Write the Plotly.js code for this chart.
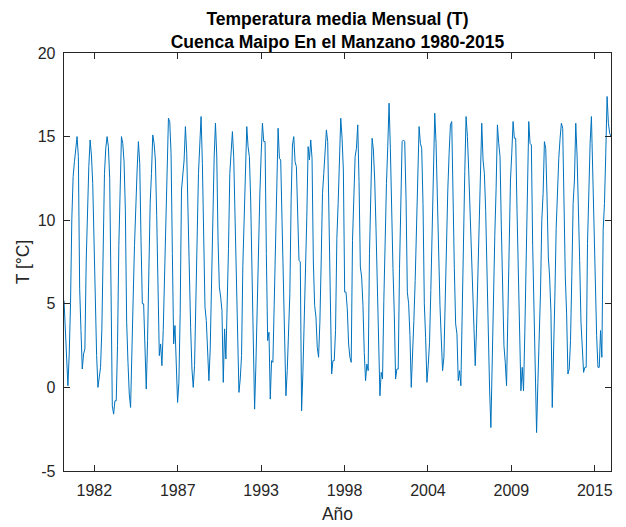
<!DOCTYPE html>
<html>
<head>
<meta charset="utf-8">
<script src="https://cdn.plot.ly/plotly-3.0.1.min.js"></script>
<style>
  html, body { margin: 0; padding: 0; background: #ffffff; }
  #grafico { width: 626px; height: 527px; }
</style>
</head>
<body>
<div id="grafico"></div>
<script>
// Temperatura media mensual [°C], Cuenca Maipo en El Manzano.
// Cada fila es un año hidrológico: abril ... marzo.
const temp1980s = [
  5.2, 3.2, 1.2, 0.1, 2.0, 5.0, 10.1, 12.6, 13.5, 14.4, 15.0, 13.8,   // 1980/81
  5.9, 3.4, 1.1, 2.0, 2.3, 7.5, 11.1, 13.2, 14.8, 13.9, 12.2, 8.5,    // 1981/82
  4.9, 1.9, 0.0, 0.6, 1.2, 3.5, 9.2, 12.8, 14.3, 15.0, 14.4, 12.5,    // 1982/83
  6.0, -1.1, -1.6, -0.8, -0.8, 2.5, 8.5, 13.0, 15.0, 14.6, 13.5, 10.6,// 1983/84
  3.9, 1.5, -0.4, -1.2, 1.5, 5.4, 8.5, 11.5, 13.0, 14.7, 13.4, 8.8,   // 1984/85
  5.0, 5.0, 1.5, -0.1, 2.8, 7.8, 11.0, 12.8, 15.1, 14.6, 13.6, 10.3,  // 1985/86
  5.8, 1.9, 2.6, 1.3, 3.4, 7.0, 9.8, 13.0, 16.1, 15.9, 14.0, 8.0,     // 1986/87
  2.6, 3.7, 1.4, -0.9, 0.3, 4.5, 11.8, 12.5, 13.6, 15.6, 14.0, 10.5,  // 1987/88
  5.8, 3.6, 1.1, 0.0, 1.3, 5.4, 9.3, 12.8, 14.5, 16.2, 13.4, 9.4,     // 1988/89
  4.8, 4.0, 2.0, 0.4, 2.3, 6.3, 11.9, 13.7, 15.8, 13.9, 8.8, 6.0      // 1989/90
];
const temp1990s = [
  5.4, 4.6, 0.3, 3.5, 1.7, 4.3, 8.3, 12.8, 13.9, 15.3, 13.8, 10.2,    // 1990/91
  6.2, 4.6, -0.3, 0.5, 1.9, 7.3, 10.4, 11.8, 15.6, 14.4, 13.8, 11.2,  // 1991/92
  6.6, 2.9, -1.3, 1.4, 5.2, 8.4, 11.5, 13.9, 15.8, 14.7, 14.7, 8.0,   // 1992/93
  2.8, 3.3, -0.7, 1.6, 1.5, 4.9, 9.2, 12.1, 15.5, 13.7, 13.6, 10.0,   // 1993/94
  6.3, 3.3, -0.5, 1.0, 3.3, 5.6, 11.3, 14.5, 15.0, 13.5, 13.2, 11.0,  // 1994/95
  7.6, 7.5, -1.4, 0.9, 3.8, 7.0, 10.2, 14.4, 13.6, 14.8, 13.7, 7.5,   // 1995/96
  4.9, 4.2, 2.4, 1.8, 3.9, 7.5, 11.6, 12.8, 14.3, 15.4, 14.7, 9.9,    // 1996/97
  5.1, 0.8, 1.6, 1.6, 3.4, 8.9, 11.0, 13.0, 16.1, 14.9, 13.0, 5.7,    // 1997/98
  5.7, 4.7, 2.6, 1.8, 1.5, 8.8, 11.8, 13.8, 14.3, 15.7, 12.3, 7.2,    // 1998/99
  6.6, 4.9, 2.1, 0.4, 1.4, 1.0, 8.0, 12.5, 14.9, 14.2, 12.4, 9.5      // 1999/00
];
const temp2000s = [
  5.8, 2.7, -0.5, 0.9, 0.5, 5.2, 10.0, 12.2, 14.4, 17.0, 14.3, 9.8,   // 2000/01
  7.1, 4.4, 0.5, 1.1, 1.1, 7.1, 11.8, 14.7, 14.8, 14.7, 11.3, 5.7,    // 2001/02
  5.0, 3.1, 0.0, 1.6, 4.0, 6.4, 9.5, 12.3, 15.6, 14.6, 14.3, 11.0,    // 2002/03
  5.0, 3.0, 0.3, 1.3, 2.7, 5.8, 10.1, 12.0, 16.4, 14.6, 11.5, 7.1,    // 2003/04
  4.9, 2.9, 1.0, 1.8, 5.1, 9.4, 11.8, 14.0, 15.7, 15.9, 10.8, 7.1,    // 2004/05
  3.8, 3.2, 0.4, 1.0, 0.1, 4.9, 10.1, 12.9, 16.2, 15.0, 13.0, 10.4,   // 2005/06
  7.8, 5.2, 2.9, 1.3, 3.5, 6.6, 10.2, 13.6, 15.8, 13.6, 12.8, 10.6,   // 2006/07
  6.8, 2.9, -0.1, -2.4, 2.1, 6.1, 9.1, 11.9, 15.7, 14.6, 13.8, 9.6,   // 2007/08
  5.4, 2.5, 1.5, 0.1, 4.3, 9.0, 12.4, 14.0, 15.9, 14.9, 14.9, 10.6,   // 2008/09
  7.5, 3.9, -0.2, 1.2, -0.2, 3.3, 8.0, 10.3, 15.9, 14.6, 14.5, 8.5    // 2009/10
];
const temp2010s = [
  4.2, 0.8, -2.7, 0.3, 2.6, 5.7, 10.0, 11.6, 14.7, 14.3, 11.4, 7.8,   // 2010/11
  6.6, 4.5, -1.2, 1.5, 5.4, 9.5, 11.9, 13.7, 14.9, 15.8, 15.5, 9.7,   // 2011/12
  6.6, 4.4, 0.8, 1.1, 2.8, 6.7, 11.0, 12.4, 15.8, 13.9, 11.4, 7.6,    // 2012/13
  3.9, 2.4, 0.9, 1.2, 1.2, 8.6, 12.3, 14.6, 16.2, 12.8, 9.5, 5.7,     // 2013/14
  3.1, 1.2, 1.2, 3.4, 1.8, 9.4, 11.0, 14.0, 17.4, 15.8, 15.2, 15.0    // 2014/15
];

// Extremos del eje temporal y marcas del eje X
const fechaInicio = '1980-04-01';
const fechaFin = '2016-03-01';
const tickFechas = ['1982-03-30', '1987-09-20', '1993-03-12', '1998-09-02',
                    '2004-02-23', '2009-08-15', '2015-02-05'];
const tickAnos = ['1982', '1987', '1993', '1998', '2004', '2009', '2015'];
const tickTemp = [-5, 0, 5, 10, 15, 20];

const temperatura = temp1980s.concat(temp1990s, temp2000s, temp2010s);

// Serie repartida de forma uniforme entre las dos fechas extremas
const t0 = Date.parse(fechaInicio + 'T00:00:00Z');
const t1 = Date.parse(fechaFin + 'T00:00:00Z');
const paso = (t1 - t0) / (temperatura.length - 1);
const fechas = temperatura.map(function (_, i) {
  return new Date(t0 + i * paso).toISOString().slice(0, 19).replace('T', ' ');
});

const colorEje = '#262626';
const fuente = '"Liberation Sans", Arial, Helvetica, sans-serif';

const traza = {
  type: 'scatter',
  mode: 'lines',
  x: fechas,
  y: temperatura,
  line: { color: '#0072BD', width: 1 },
  hoverinfo: 'skip'
};

const ejeComun = {
  ticks: 'inside',
  ticklen: 6,
  tickwidth: 1,
  tickcolor: colorEje,
  showline: true,
  linecolor: colorEje,
  linewidth: 1.3,
  mirror: 'ticks',
  showgrid: false,
  zeroline: false,
  tickfont: { family: fuente, size: 16, color: colorEje }
};

const layout = Object.assign({
  width: 626,
  height: 527,
  margin: { l: 64, r: 15, t: 53, b: 56, pad: 0 },
  paper_bgcolor: '#ffffff',
  plot_bgcolor: '#ffffff',
  showlegend: false,
  font: { family: fuente, size: 16, color: colorEje },
  title: {
    text: '<b>Temperatura media Mensual (T)</b><br><b>Cuenca Maipo En el Manzano 1980-2015</b>',
    font: { family: fuente, size: 17.5, color: '#000000' },
    xref: 'paper', x: 0.5, xanchor: 'center',
    yref: 'container', y: 0.953, yanchor: 'top'
  },
  xaxis: Object.assign({}, ejeComun, {
    type: 'date',
    range: [fechaInicio, fechaFin],
    tickmode: 'array',
    tickvals: tickFechas,
    ticktext: tickAnos,
    ticklabelstandoff: 4,
    title: { text: 'Año', font: { family: fuente, size: 17.5, color: colorEje }, standoff: 10 }
  }),
  yaxis: Object.assign({}, ejeComun, {
    range: [-5, 20],
    tickmode: 'array',
    tickvals: tickTemp,
    ticktext: tickTemp.map(String),
    ticklabelstandoff: 4,
    title: { text: 'T [°C]', font: { family: fuente, size: 17.5, color: colorEje }, standoff: 3 }
  })
});

Plotly.newPlot('grafico', [traza], layout, { displayModeBar: false, staticPlot: true });
</script>
</body>
</html>
